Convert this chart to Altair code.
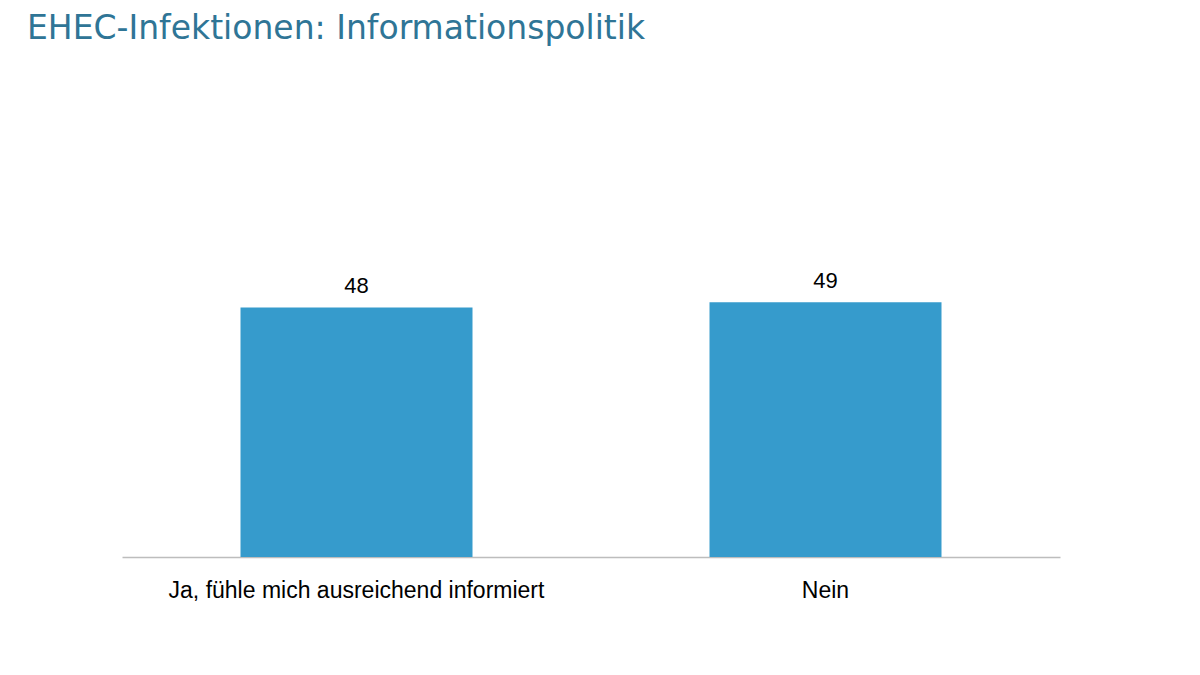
import altair as alt
import pandas as pd

categories = ["Ja, fühle mich ausreichend informiert", "Nein"]
values = [48, 49]

df = pd.DataFrame({"cat": categories, "val": values})

base = alt.Chart(df).encode(
    x=alt.X("cat:N", sort=categories,
            scale=alt.Scale(paddingInner=0, paddingOuter=0),
            axis=alt.Axis(title=None, labelAngle=0, ticks=False, labelPadding=22,
                          labelFont="Liberation Sans", labelFontSize=23, labelColor="#000000",
                          domainColor="#bdbdbd", domainWidth=1.5, labelLimit=600)),
    y=alt.Y("val:Q", scale=alt.Scale(domain=[0, 60]), axis=None),
)

bars = base.mark_bar(size=232, color="#369bcc")
labels = base.mark_text(dy=-14, baseline="alphabetic", font="Liberation Sans",
                        fontSize=22, color="#000000").encode(text="val:Q")

chart = (bars + labels).properties(
    width=938, height=312,
    title=alt.TitleParams("EHEC-Infektionen: Informationspolitik", anchor="start",
                          font="DejaVu Sans", fontSize=33, fontWeight="normal",
                          color="#2f7596", dx=-95, offset=199, frame="group"),
    autosize=alt.AutoSizeParams(type="none"),
    padding={"left": 114, "top": 237, "right": 60, "bottom": 90},
).configure_view(stroke=None)

chart.save("out.html", embed_options={"renderer": "svg", "actions": False})
